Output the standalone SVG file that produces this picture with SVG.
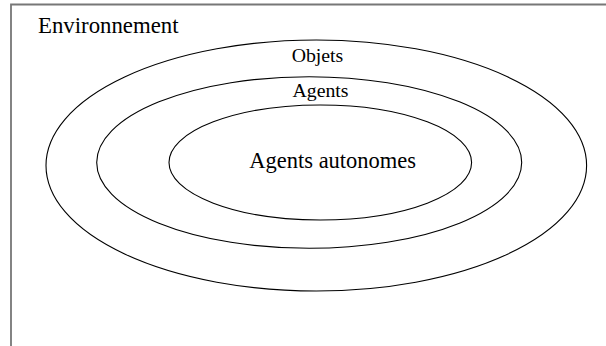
<svg xmlns="http://www.w3.org/2000/svg" width="606" height="346" viewBox="0 0 606 346">
<style>
.ring{fill:none;stroke:#000;stroke-width:1.1}
.t{font-family:"Liberation Serif","Times New Roman",serif;fill:#000}
</style>
<rect width="606" height="346" fill="#fff"/>
<path d="M11,346 V4.5 H606" fill="none" stroke="#777" stroke-width="1.8"/>
<g id="environnement">
<text class="t" x="38" y="33" font-size="22.8">Environnement</text>
</g>
<g id="objets">
<ellipse class="ring" cx="316.3" cy="165.5" rx="270.3" ry="125.5"/>
<text class="t" x="317.5" y="61.5" font-size="19.8" text-anchor="middle">Objets</text>
</g>
<g id="agents">
<ellipse class="ring" cx="309.2" cy="162.5" rx="212.5" ry="85.8"/>
<text class="t" x="320.5" y="97" font-size="19.8" text-anchor="middle">Agents</text>
</g>
<g id="agents-autonomes">
<ellipse class="ring" cx="320.3" cy="162.5" rx="151.3" ry="57.5"/>
<text class="t" x="332.7" y="168.3" font-size="22.5" text-anchor="middle">Agents autonomes</text>
</g>
<g id="connectors"/>
</svg>
